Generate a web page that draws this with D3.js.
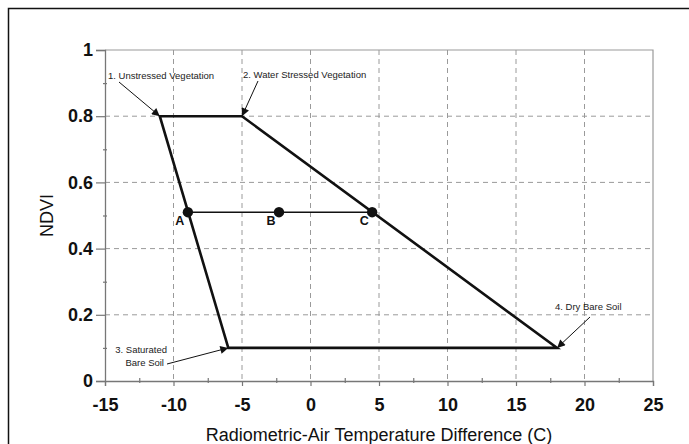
<!DOCTYPE html>
<html>
<head>
<meta charset="utf-8">
<script src="https://cdn.jsdelivr.net/npm/d3@7.9.0/dist/d3.min.js"></script>
<style>
  body { margin: 0; background: #fff; }
  svg { display: block; font-family: "Liberation Sans", Arial, sans-serif; }
</style>
</head>
<body>
<svg id="chart" width="689" height="444"></svg>
<script>
// trapezoid corners (temp diff, ndvi)
const cornerX = [-11, -5, 18, -6];
const cornerY = [0.8, 0.8, 0.1, 0.1];

// sample points on the line
const pointNames = ['A', 'B', 'C'];
const pointX = [-8.95, -2.3, 4.5];
const pointY = [0.51, 0.51, 0.51];

// corner annotations (which corner each one points at)
const noteLines = [
    ['1. Unstressed Vegetation'],
    ['2. Water Stressed Vegetation'],
    ['3. Saturated', 'Bare Soil'],
    ['4. Dry Bare Soil']
];
const noteCorner = [0, 1, 3, 2];

const xTicks = [-15, -10, -5, 0, 5, 10, 15, 20, 25];
const xTickLabels = ['-15', '-10', '-5', '0', '5', '10', '15', '20', '25'];
const yTicks = [0, 0.2, 0.4, 0.6, 0.8, 1];
const yTickLabels = ['0', '0.2', '0.4', '0.6', '0.8', '1'];

const svg = d3.select('#chart');
const pLeft = 105, pRight = 653, pTop = 50, pBottom = 381;

let x = d3.scaleLinear().domain([-15, 25]).range([pLeft, pRight]);
let y = d3.scaleLinear().domain([0, 1]).range([pBottom, pTop]);

// outer frame, runs off the right/bottom edge
svg.append('rect')
    .attr('x', 8.5).attr('y', 8.5)
    .attr('width', 720).attr('height', 500)
    .attr('fill', 'none').attr('stroke', '#111').attr('stroke-width', 1.5);

svg.append('defs').append('marker')
    .attr('id', 'arrow')
    .attr('viewBox', '0 0 10 10')
    .attr('refX', 10).attr('refY', 5)
    .attr('markerWidth', 10).attr('markerHeight', 8)
    .attr('markerUnits', 'userSpaceOnUse')
    .attr('orient', 'auto')
    .append('path').attr('d', 'M0,0 L10,5 L0,10 Z').attr('fill', '#111');

/* grid */
const grid = svg.append('g');
xTicks.slice(1, -1).forEach(t => {
    grid.append('line')
        .attr('x1', x(t)).attr('x2', x(t)).attr('y1', pTop).attr('y2', pBottom)
        .attr('stroke', '#9a9a9a').attr('stroke-dasharray', '5,4');
});
yTicks.slice(1, -1).forEach(t => {
    grid.append('line')
        .attr('x1', pLeft).attr('x2', pRight).attr('y1', y(t)).attr('y2', y(t))
        .attr('stroke', '#9a9a9a').attr('stroke-dasharray', '5,4');
});
// top + right border of plot
grid.append('path')
    .attr('d', `M${pLeft},${y(1)}H${pRight}V${pBottom}`)
    .attr('fill', 'none').attr('stroke', '#9a9a9a').attr('stroke-width', 1.2);

/* axes */
let xAxis = svg.append('g')
    .attr('transform', `translate(0,${pBottom})`)
    .call(d3.axisBottom(x).tickValues(xTicks).tickSize(5).tickPadding(12)
        .tickFormat((d, i) => xTickLabels[i]));
let xMinor = svg.append('g')
    .attr('transform', `translate(0,${pBottom + 2})`)
    .call(d3.axisBottom(x).tickValues(xTicks.slice(0, -1).map(t => t + 2.5)).tickSize(-5).tickFormat(''));
xMinor.select('.domain').remove();

let yAxis = svg.append('g')
    .attr('transform', `translate(${pLeft},0)`)
    .call(d3.axisLeft(y).tickValues(yTicks).tickSize(9).tickPadding(3)
        .tickFormat((d, i) => yTickLabels[i]));
let yMinor = svg.append('g')
    .attr('transform', `translate(${pLeft + 2},0)`)
    .call(d3.axisLeft(y).tickValues(yTicks.slice(0, -1).map(t => t + 0.1)).tickSize(4).tickFormat(''));
yMinor.select('.domain').remove();

[xAxis, yAxis, xMinor, yMinor].forEach(a => {
    a.selectAll('.domain').attr('stroke', '#777').attr('stroke-width', 1.3);
    a.selectAll('.tick line').attr('stroke', '#777').attr('stroke-width', 1.2);
});
[xAxis, yAxis].forEach(a => {
    a.selectAll('.tick text')
        .attr('font-size', 18).attr('font-weight', 'bold').attr('fill', '#111')
        .attr('font-family', '"Liberation Sans", Arial, sans-serif');
});

svg.append('text')
    .attr('x', (pLeft + pRight) / 2).attr('y', 441)
    .attr('text-anchor', 'middle').attr('font-size', 18).attr('fill', '#111')
    .text('Radiometric-Air Temperature Difference (C)');
svg.append('text')
    .attr('transform', `translate(53,${(pTop + pBottom) / 2}) rotate(-90)`)
    .attr('text-anchor', 'middle').attr('font-size', 18).attr('fill', '#111')
    .text('NDVI');

/* trapezoid */
let corners = cornerX.map((cx, i) => [x(cx), y(cornerY[i])]);
svg.append('path')
    .attr('d', d3.line()(corners) + 'Z')
    .attr('fill', 'none').attr('stroke', '#111').attr('stroke-width', 2.6)
    .attr('stroke-linejoin', 'miter');

/* A-B-C line and points */
svg.append('line')
    .attr('x1', x(pointX[0])).attr('x2', x(pointX[2]))
    .attr('y1', y(pointY[0])).attr('y2', y(pointY[2]))
    .attr('stroke', '#111').attr('stroke-width', 1.5);
pointNames.forEach((name, i) => {
    svg.append('circle')
        .attr('cx', x(pointX[i])).attr('cy', y(pointY[i])).attr('r', 5.2)
        .attr('fill', '#111');
    svg.append('text')
        .attr('x', x(pointX[i]) - 8).attr('y', y(pointY[i]) + 13)
        .attr('text-anchor', 'middle').attr('font-size', 12.5).attr('font-weight', 'bold')
        .attr('fill', '#111')
        .text(name);
});

/* annotations: text position + arrow start, arrow ends at the corner */
const noteText = [[108, 79, 'start'], [243, 78, 'start'], [167, 353, 'end'], [555, 310, 'start']];
const arrowStart = [[119, 82], [258, 81], [167, 364], [590, 317]];
noteLines.forEach((lines, i) => {
    let t = svg.append('text')
        .attr('x', noteText[i][0]).attr('y', noteText[i][1])
        .attr('text-anchor', noteText[i][2])
        .attr('font-size', 9.5).attr('fill', '#222');
    lines.forEach((ln, j) => {
        t.append('tspan').attr('x', noteText[i][0]).attr('dy', j == 0 ? 0 : 13)
            .attr('dx', j == 1 ? -3 : 0)
            .text(ln);
    });
    let c = corners[noteCorner[i]];
    svg.append('line')
        .attr('x1', arrowStart[i][0]).attr('y1', arrowStart[i][1])
        .attr('x2', c[0]).attr('y2', c[1])
        .attr('stroke', '#111').attr('stroke-width', 1)
        .attr('marker-end', 'url(#arrow)');
});
</script>
</body>
</html>
